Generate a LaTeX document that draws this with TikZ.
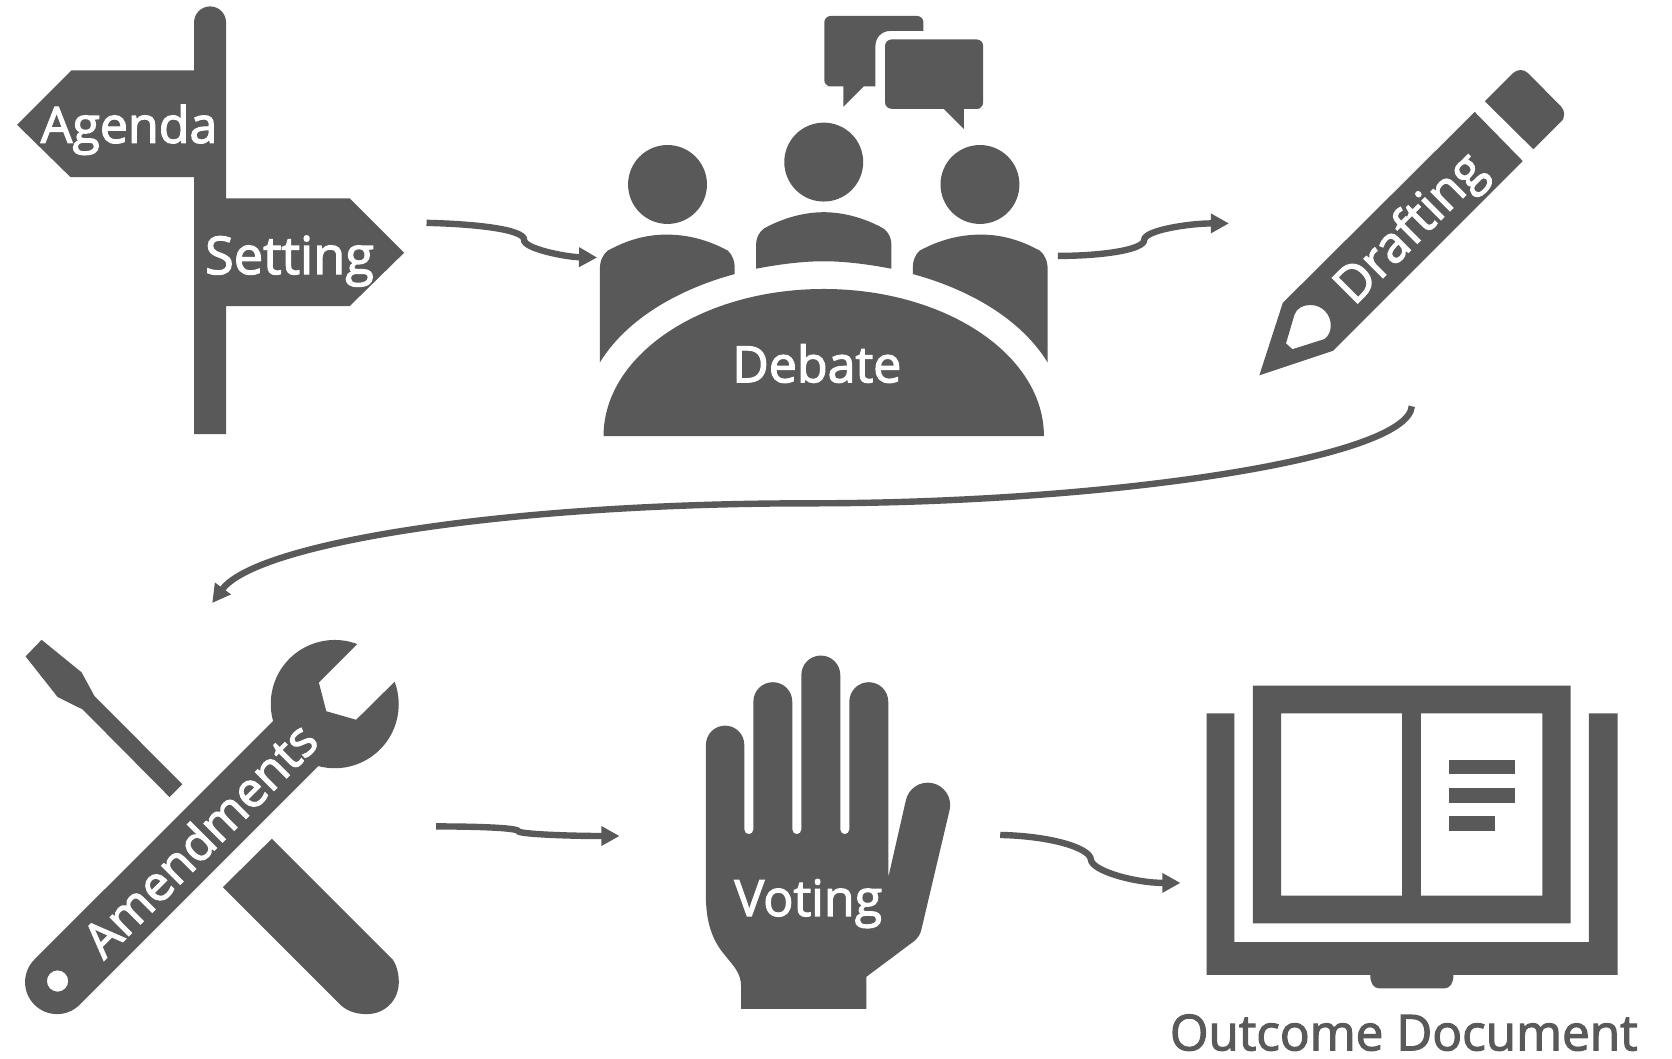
\documentclass[tikz,border=0pt]{standalone}
\usepackage{fontspec}
\setmainfont{Open Sans}
\newfontfamily\labelfont[FakeBold=2.4]{Open Sans}
\usetikzlibrary{arrows.meta}
\definecolor{c595959}{RGB}{89,89,89}
\tikzset{
  iconfill/.style={fill=c595959,draw=none},
  iconlabel/.style={text=white,anchor=base,font=\labelfont\fontsize{37.6}{42}\selectfont},
  flowarrow/.style={draw=c595959,line width=4.8pt,
    -{Triangle[length=13.6pt,width=14pt]}}
}

\begin{document}
\begin{tikzpicture}[y=0.80pt, x=0.8pt,yscale=-1, inner sep=0pt, outer sep=0pt]
  \useasboundingbox (0,0) rectangle (1568,992.2);

  \begin{scope}
    \path[iconfill] (182,407) -- (182,166) -- (66,166) -- (16,117) -- (67,66) --
      (182,66) -- (182,21) arc (180:360:15) -- (212,186) -- (328,186) --
      (379,237) -- (328,287) -- (212,287) -- (212,407) -- cycle;
    \node[iconlabel] (agenda) at (121,134) {Agenda};
    \node[iconlabel,font=\labelfont\fontsize{39.2}{42}\selectfont] (setting) at
      (271.5,257) {Setting};
  \end{scope}

  \begin{scope}
    \foreach \hx/\hy in {626/173, 772.5/152, 919/173}
      \path[iconfill] (\hx,\hy) circle (37);
    \path[iconfill] (562.5,340) -- (562.5,253) .. controls (562.5,245) and
      (565,239) .. (570,235) .. controls (590,224) and (608,220) .. (625,220) ..
      controls (645,220) and (664,225) .. (682.5,235) .. controls (687,239) and
      (689,245) .. (689,251) -- (689,257) .. controls (630,273) and (585,303) ..
      (562.5,340) -- cycle;
    \path[iconfill] (709,252) -- (709,230) .. controls (709,224) and (711,218) ..
      (717,214) .. controls (735,204) and (755,199) .. (772.5,199) .. controls
      (790,199) and (810,204) .. (828,214) .. controls (834,218) and (836,224) ..
      (836,230) -- (836,252) .. controls (815,248) and (793,245) .. (772.5,245) ..
      controls (752,245) and (730,248) .. (709,252) -- cycle;
    \path[iconfill] (982.5,340) -- (982.5,253) .. controls (982.5,245) and
      (980,239) .. (975,235) .. controls (955,224) and (937,220) .. (920,220) ..
      controls (900,220) and (881,225) .. (862.5,235) .. controls (858,239) and
      (856,245) .. (856,251) -- (856,257) .. controls (915,273) and (960,303) ..
      (982.5,340) -- cycle;
    \path[iconfill] (566,409) arc (180:360:206.5 and 138) -- cycle;
    \path[iconfill] (791,100) -- (810,81) -- (821,81) -- (821,43) .. controls
      (821,35) and (827,29) .. (835,29) -- (866,29) [rounded corners=4.8pt] --
      (866,15) -- (773,15) -- (773,81) -- (778,81) [sharp corners] -- (791,81) --
      cycle;
    \path[iconfill] (904,121) -- (885,102) [rounded corners=4.8pt] -- (830,102) --
      (830,37) -- (922,37) -- (922,102) -- (917,102) [sharp corners] -- (904,102)
      -- cycle;
    \node[iconlabel] (debate) at (766,358.5) {Debate};
  \end{scope}

  \begin{scope}
    \path[iconfill,even odd rule] (1181,352) -- (1203,284) -- (1383,105) --
      (1428,151) -- (1250,329) -- cycle (1206,322) -- (1214,295) .. controls
      (1216,289) and (1222,286) .. (1229,286) .. controls (1240,286) and
      (1248,295) .. (1248,305) .. controls (1248,311) and (1246,315) ..
      (1242,318) -- (1212,327.5) -- cycle;
    \path[iconfill] (1392.5,95) [rounded corners=8pt] -- (1426,61.5) -- (1471,107)
      -- (1460,118) [sharp corners] -- (1438,140) -- cycle;
    \node[iconlabel,rotate=45,anchor=center] (drafting) at (1324,216) {Drafting};
  \end{scope}

  \begin{scope}
    \path[iconfill] (39,600) -- (24,615.6) -- (54,653.6) -- (77.5,665.3) --
      (159,747.5) -- (171,735.5) -- (88.5,652.6) -- (76.5,630.5) -- cycle;
    \path[iconfill] (255,786.5) -- (209,832) -- (320,943) .. controls (327,949) and
      (335,951) .. (344,951) .. controls (361,951) and (374,938) .. (374,921) ..
      controls (374,913) and (372,905) .. (368,899.5) -- cycle;
    \path[iconfill,even odd rule] (256,676.3) -- (32.3,899.8) arc (225:45:30) --
      (298.5,718.4) arc (104.9:-20.6:60) -- (334,675) -- (306,667) -- (299,640) --
      (335,604) arc (-69.4:-195.7:60) -- cycle (54,920) circle (10);
    \node[iconlabel,rotate=45,anchor=center,
      font=\labelfont\fontsize{36.6}{42}\selectfont] (amendments) at (187,787)
      {Amendments};
  \end{scope}

  \begin{scope}
    \path[iconfill] (695,946) -- (695,925) .. controls (695,912) and (687,905) ..
      (680,896) .. controls (668,882) and (662,865) .. (662,840) -- (662,698.5)
      arc (180:360:18) -- (698,778) arc (180:0:4.25) -- (706.5,658) arc
      (180:360:18.25) -- (743,778) arc (180:0:4.25) -- (751.5,633) arc
      (180:360:18.25) -- (788,778) arc (180:0:4.25) -- (796.5,658) arc
      (180:360:18.25) -- (833,823) -- (849.5,750.6) arc (192:372:21) -- (864,872)
      .. controls (863,877) and (860,880) .. (858,882) -- (812.5,916) --
      (812.5,946) -- cycle;
    \node[iconlabel] (voting) at (758,859) {Voting};
  \end{scope}

  \begin{scope}
    \path[iconfill,even odd rule] (1175,643) rectangle (1473,866) (1201.5,669)
      rectangle (1315,840) (1332.5,669) rectangle (1446.5,840);
    \path[iconfill] (1359,712.7) rectangle (1421,726.3);
    \path[iconfill] (1359,739) rectangle (1421,752.6);
    \path[iconfill] (1359,765) rectangle (1402,779);
    \path[iconfill] (1131.5,669) -- (1157.5,669) -- (1157.5,883.6) -- (1490,883.6)
      -- (1490,669) -- (1517,669) -- (1517,914.3) -- (1363,914.3) .. controls
      (1363,922) and (1360,927) .. (1354,927) -- (1294,927) .. controls (1288,927)
      and (1285,922) .. (1285,914.3) -- (1131.5,914.3) -- cycle;
    \node[iconlabel,text=c595959,font=\labelfont\fontsize{37.1}{42}\selectfont]
      (outcome) at (1316.5,985) {Outcome Document};
  \end{scope}

  \coordinate (setting-out) at (400,209);
  \coordinate (debate-in) at (560,241.5);
  \coordinate (debate-out) at (992,240);
  \coordinate (drafting-in) at (1152.5,209.5);
  \coordinate (drafting-out) at (1324,381);
  \coordinate (amendments-in) at (199,565.5);
  \coordinate (amendments-out) at (409,775);
  \coordinate (voting-in) at (581,784);
  \coordinate (voting-out) at (938,783);
  \coordinate (outcome-in) at (1107,828);

  \draw[flowarrow] (setting-out) .. controls (445,210) and (492,215) .. (491.5,225)
    .. controls (491,233) and (530,241) .. (debate-in);
  \draw[flowarrow] (debate-out) .. controls (1035,240) and (1073,234) .. (1073,225)
    .. controls (1073,216) and (1115,209.5) .. (drafting-in);
  \draw[flowarrow] (drafting-out) .. controls (1320,430) and (1040,472) .. (760,472)
    .. controls (470,472) and (240,510) .. (amendments-in);
  \draw[flowarrow] (amendments-out) .. controls (440,775) and (486,776) ..
    (486,779.5) .. controls (486,782) and (530,784) .. (voting-in);
  \draw[flowarrow] (voting-out) .. controls (985,784) and (1022,795) .. (1023,806)
    .. controls (1024,817) and (1065,828) .. (outcome-in);

\end{tikzpicture}
\end{document}
